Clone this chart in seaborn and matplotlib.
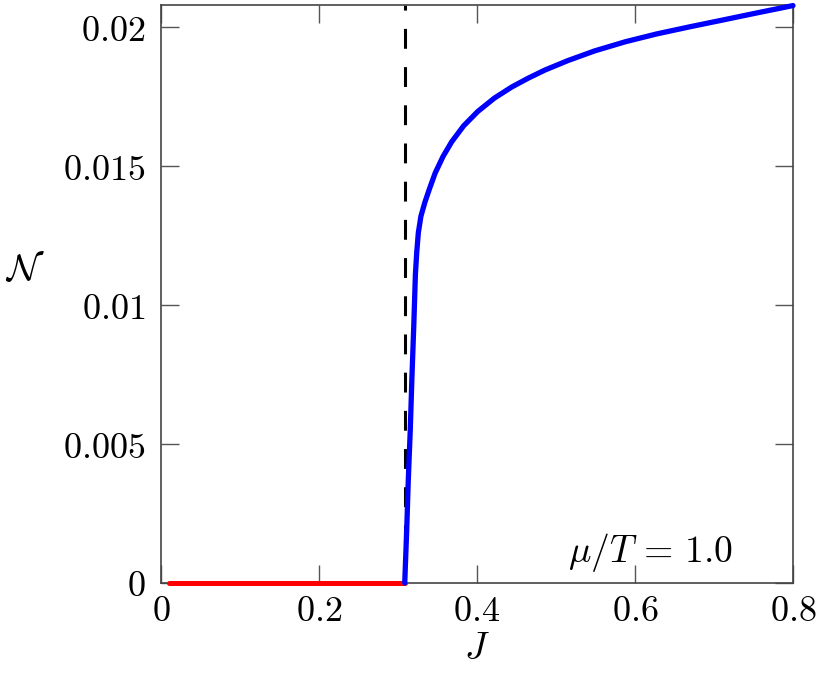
import numpy as np
import pandas as pd
import matplotlib
matplotlib.use("Agg")
import matplotlib.pyplot as plt
import seaborn as sns

# critical coupling (dashed line)
J_c = 0.3085

# trivial branch, N = 0
J_red = [0.01, 0.3085]
N_red = [0.0, 0.0]

# nontrivial branch
J_blue = [0.3085, 0.311, 0.313, 0.3155, 0.3175, 0.320, 0.322, 0.3237, 0.3257,
          0.329, 0.334, 0.340, 0.347, 0.357, 0.368, 0.383, 0.401, 0.422,
          0.444, 0.465, 0.486, 0.515, 0.549, 0.588, 0.6275, 0.67, 0.711,
          0.755, 0.80]
N_blue = [0.0, 0.0019, 0.0037, 0.0055, 0.0073, 0.0093, 0.0111, 0.0119, 0.0126,
          0.0132, 0.0137, 0.0142, 0.01475, 0.01535, 0.01588, 0.01645, 0.01697, 0.01745,
          0.01785, 0.01817, 0.01846, 0.0188, 0.01915, 0.01948, 0.01976, 0.02002, 0.02026,
          0.02052, 0.02078]

x_ticks = [0, 0.2, 0.4, 0.6, 0.8]
x_labels = ["0", "0.2", "0.4", "0.6", "0.8"]
y_ticks = [0, 0.005, 0.01, 0.015, 0.02]
y_labels = ["0", "0.005", "0.01", "0.015", "0.02"]

sns.set_style("ticks")
plt.rcParams["mathtext.fontset"] = "cm"
plt.rcParams["font.family"] = ["DejaVu Serif"]
plt.rcParams["text.color"] = "black"
plt.rcParams["axes.labelcolor"] = "black"

fig = plt.figure(figsize=(8.22, 6.79), dpi=100)
ax = fig.add_axes([0.1959, 0.1414, 0.9647 - 0.1959, 0.9926 - 0.1414])

red = pd.DataFrame({"J": J_red, "N": N_red})
blue = pd.DataFrame({"J": J_blue, "N": N_blue})

sns.lineplot(data=red, x="J", y="N", ax=ax, color="#ff0000", lw=3.6,
             solid_capstyle="round", zorder=3, clip_on=False)
ax.axvline(J_c, color="black", lw=2.2, dashes=(6.5, 6), zorder=2)
sns.lineplot(data=blue, x="J", y="N", ax=ax, color="#0000ff", lw=3.8,
             solid_capstyle="round", zorder=4, clip_on=False)

ax.set_xlim(0, 0.8)
ax.set_ylim(0, 0.0208)
ax.set_xticks(x_ticks)
ax.set_xticklabels(["$" + s + "$" for s in x_labels])
ax.set_yticks(y_ticks)
ax.set_yticklabels(["$" + s + "$" for s in y_labels])
ax.tick_params(direction="in", length=13, width=1.0, color="#555555",
               labelcolor="black", top=True, right=True, labelsize=26)
ax.tick_params(axis="x", pad=8)
ax.tick_params(axis="y", pad=11)

for sp in ax.spines.values():
    sp.set_color("#444444")
    sp.set_linewidth(1.2)

ax.set_xlabel("$J$", fontsize=27, labelpad=2)
ax.set_ylabel(r"$\mathcal{N}$", fontsize=27, rotation=0)
ax.yaxis.set_label_coords(-0.215, 0.51)

ax.text(0.62, 0.0011, r"$\mu/T\,=\,1.0$", fontsize=27, ha="center", va="center")

fig.savefig("out.png", dpi=100)
